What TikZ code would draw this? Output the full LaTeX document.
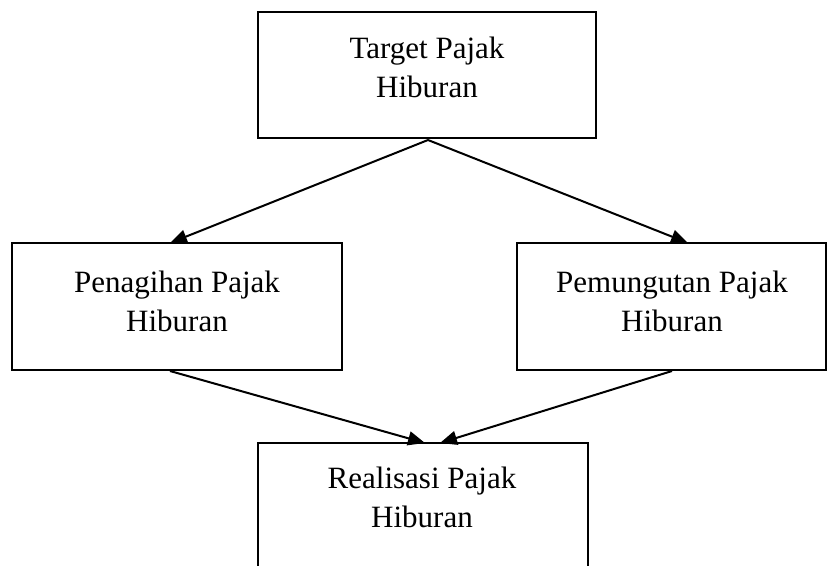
\documentclass[tikz,border=0pt]{standalone}
\usepackage{fontspec}
\setmainfont{Liberation Serif}
\usetikzlibrary{arrows.meta}
\begin{document}
\begin{tikzpicture}[x=1pt,y=-1pt,
  box/.style={draw=black,line width=1.5pt,rectangle,inner sep=0pt},
  txt/.style={align=center,inner sep=0pt,font=\fontsize{31}{39}\selectfont},
  arr/.style={line width=2pt,-{Triangle[length=17pt,width=14pt]}}]
\useasboundingbox (0,0) rectangle (837,565);
\clip (0,0) rectangle (837,565);
\node[box,minimum width=338pt,minimum height=126pt] (top) at (427,75) {};
\node[box,minimum width=330pt,minimum height=127pt] (left) at (177,306.5) {};
\node[box,minimum width=309pt,minimum height=127pt] (right) at (671.5,306.5) {};
\node[box,minimum width=330pt,minimum height=126pt] (bot) at (423,506) {};
\node[txt] (toptxt) at (427,67) {Target Pajak\\Hiburan};
\node[txt] (lefttxt) at (177,301.5) {Penagihan Pajak\\Hiburan};
\node[txt] (righttxt) at (672,301.5) {Pemungutan Pajak\\Hiburan};
\node[txt] (bottxt) at (422,497.5) {Realisasi Pajak\\Hiburan};
\coordinate (ts) at (428,140);
\coordinate (le) at (170,243);
\coordinate (re) at (688,243);
\coordinate (ls) at (170,371);
\coordinate (rs) at (672,371);
\coordinate (b1) at (425,443);
\coordinate (b2) at (440,443);
\draw[arr] (ts) -- (le);
\draw[arr] (ts) -- (re);
\draw[arr] (ls) -- (b1);
\draw[arr] (rs) -- (b2);
\end{tikzpicture}
\end{document}
